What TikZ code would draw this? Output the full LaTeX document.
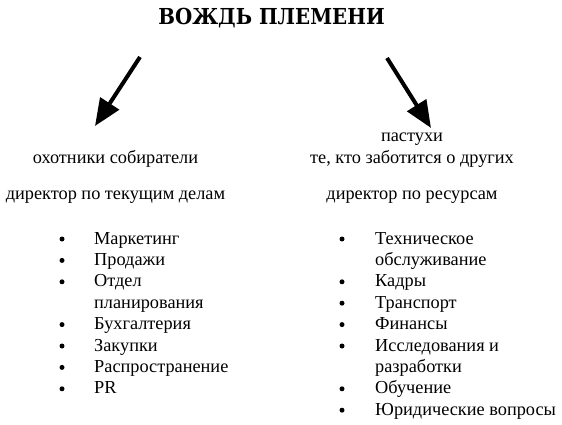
\documentclass[tikz,border=0pt]{standalone}
\usepackage{fontspec}
\setmainfont{Liberation Serif}
\newfontfamily\titlefont{DejaVu Serif Condensed}[UprightFont={* Bold}]
\usetikzlibrary{positioning, arrows.meta}

\begin{document}
\begin{tikzpicture}[x=1pt, y=1pt,
     node distance = 0pt and 0pt,
        txt/.style = {inner sep=0pt, anchor=base, font=\fontsize{18.3}{21.4}\selectfont},
      title/.style = {inner sep=0pt, anchor=base, font=\fontsize{22}{30}\selectfont\titlefont},
       list/.style = {inner sep=0pt, anchor=base west, font=\fontsize{18.3}{21.4}\selectfont},
   bigarrow/.style = {line width=4pt, -{Triangle[length=27pt,width=22pt]}}
                        ]
\useasboundingbox (0,0) rectangle (562,-425);
\node (chief)[title] at (271.5,-25) {ВОЖДЬ ПЛЕМЕНИ};
% left branch
\node (hunters)[txt] at (115.5,-163) {охотники собиратели};
\node (hdir)[below=36pt of hunters.base, txt] {директор по текущим делам};
\node (hlist)[list] at (94,-244) {\begin{tabular}[t]{@{}l@{}}
  Маркетинг\\ Продажи\\ Отдел\\ планирования\\
  Бухгалтерия\\ Закупки\\ Распространение\\ PR
\end{tabular}};
% right branch
\node (herders)[txt] at (412,-142) {пастухи};
\node (carers)[below=21pt of herders.base, txt] {те, кто заботится о других};
\node (rdir)[below=36pt of carers.base, txt] {директор по ресурсам};
\node (rlist)[list] at (375,-244) {\begin{tabular}[t]{@{}l@{}}
  Техническое\\ обслуживание\\ Кадры\\ Транспорт\\ Финансы\\
  Исследования и\\ разработки\\ Обучение\\ Юридические вопросы
\end{tabular}};
% bullets
\foreach \r in {0,1,2,4,5,6,7}
  \fill ([xshift=-32pt, yshift={5pt-21.4pt*\r}]hlist.base west) circle (2.5pt);
\foreach \r in {0,2,3,4,5,7,8}
  \fill ([xshift=-33pt, yshift={5pt-21.4pt*\r}]rlist.base west) circle (2.5pt);
% arrows
\coordinate (lt) at (140,-57);
\coordinate (lh) at (95,-126);
\coordinate (rt) at (387,-58);
\coordinate (rh) at (431,-128);
\draw[bigarrow] (lt) -- (lh);
\draw[bigarrow] (rt) -- (rh);
\end{tikzpicture}
\end{document}
